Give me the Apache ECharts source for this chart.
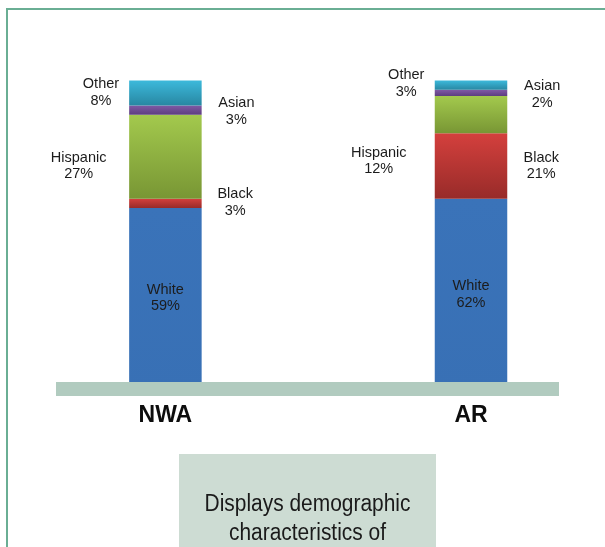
<!DOCTYPE html>
<html>
<head>
<meta charset="utf-8">
<script src="https://cdn.jsdelivr.net/npm/echarts@6/dist/echarts.min.js"></script>
<style>
html,body{margin:0;padding:0;background:#fff;}
#chart{width:605px;height:547px;}
</style>
</head>
<body>
<div id="chart"></div>
<script>
// ---- data ----
const categories = ['NWA', 'AR'];
const seriesNames = ['White', 'Black', 'Hispanic', 'Asian', 'Other'];
const white = [59, 62];
const black = [3, 21];
const hispanic = [27, 12];
const asian = [3, 2];
const other = [8, 3];
const captionLines = ['Displays demographic', 'characteristics of'];

// ---- styles ----
const values = { White: white, Black: black, Hispanic: hispanic, Asian: asian, Other: other };
const gradientStops = {
  White: ['#3a73b9', '#3870b5'],
  Black: ['#d4403d', '#982b29'],
  Hispanic: ['#a3c94d', '#789634'],
  Asian: ['#8059a6', '#5d3e7f'],
  Other: ['#3cb9db', '#2887a2']
};
const labelSide = { White: 'inside', Black: 'right', Hispanic: 'left', Asian: 'right', Other: 'left' };
const labelOffsets = {
  White: [[0, -1.8], [0, -0.4]],
  Black: [[33.5, -0.6], [34, 0]],
  Hispanic: [[-50.5, 9.1], [-56, 46.5]],
  Asian: [[34.7, 1.7], [35, 1.8]],
  Other: [[-28.2, -0.5], [-28.5, -1.5]]
};

const chart = echarts.init(document.getElementById('chart'), null, { renderer: 'canvas' });

const series = seriesNames.map(name => {
  const g = gradientStops[name];
  return {
    name: name,
    type: 'bar',
    stack: 'total',
    barWidth: 72.5,
    clip: false,
    itemStyle: {
      color: new echarts.graphic.LinearGradient(0, 0, 0, 1, [
        { offset: 0, color: g[0] }, { offset: 1, color: g[1] }
      ])
    },
    data: values[name].map((v, i) => {
      const side = labelSide[name];
      const pos = side === 'left' ? [0, '50%'] : side === 'right' ? ['100%', '50%'] : ['50%', '50%'];
      return {
        value: v,
        label: {
          show: true,
          position: pos,
          offset: labelOffsets[name][i],
          align: 'center',
          verticalAlign: 'middle',
          formatter: '{a}\n{c}%',
          fontFamily: 'Liberation Sans, Arial, sans-serif',
          fontSize: 14.5,
          lineHeight: 16.5,
          color: '#1c1c1c'
        }
      };
    })
  };
});

chart.setOption({
  animation: false,
  backgroundColor: '#ffffff',
  grid: { left: 165.4, right: 134, top: 80.5, bottom: 155.5 },
  xAxis: {
    type: 'category',
    data: categories,
    boundaryGap: false,
    axisLine: { show: false },
    axisTick: { show: false },
    splitLine: { show: false },
    axisLabel: {
      margin: 12.5,
      fontFamily: 'Liberation Sans, Arial, sans-serif',
      fontWeight: 'bold',
      fontSize: 23,
      color: '#0d0d0d'
    }
  },
  yAxis: {
    type: 'value',
    min: 0,
    max: 100,
    show: false
  },
  graphic: [
    { type: 'rect', z: -10, shape: { x: 7, y: 9, width: 700, height: 700 },
      style: { fill: 'none', stroke: '#6aae94', lineWidth: 2 } },
    { type: 'rect', z: 100, shape: { x: 56, y: 382, width: 503, height: 14 },
      style: { fill: '#b1cbbf' } },
    { type: 'rect', z: -5, shape: { x: 179, y: 454, width: 257, height: 100 },
      style: { fill: '#cddcd3' } },
    { type: 'text', z: 110, x: 307.5, y: 505, scaleX: 0.91,
      style: { text: captionLines[0], align: 'center', verticalAlign: 'middle',
        font: '23px "Liberation Sans", Arial, sans-serif', fill: '#1a1a1a' } },
    { type: 'text', z: 110, x: 307.5, y: 534, scaleX: 0.91,
      style: { text: captionLines[1], align: 'center', verticalAlign: 'middle',
        font: '23px "Liberation Sans", Arial, sans-serif', fill: '#1a1a1a' } }
  ],
  series: series
});
</script>
</body>
</html>
